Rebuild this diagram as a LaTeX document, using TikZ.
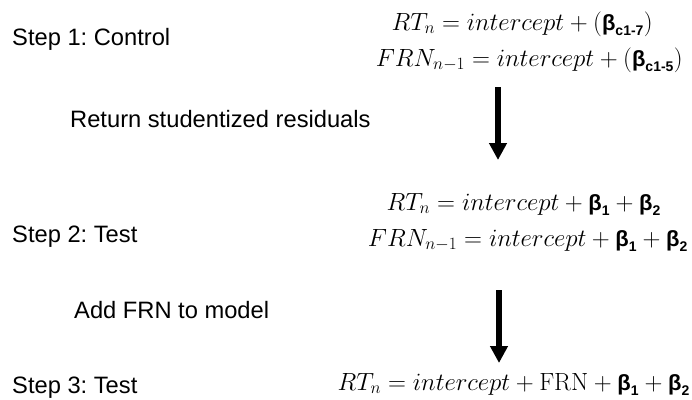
\documentclass[tikz,border=0pt]{standalone}
\usepackage{amsmath}
\usepackage[no-math]{fontspec}
\setmainfont{Liberation Sans}
\usetikzlibrary{arrows.meta}
\frenchspacing
\newcommand{\bbeta}[1]{\mbox{\fontsize{22}{26}\selectfont\bfseries β}_{\mbox{\fontsize{14}{16}\selectfont\bfseries #1}}}
\tikzset{
  lbl/.style={anchor=base west, inner sep=0pt, font=\fontsize{23.7}{28}\selectfont},
  eq/.style={anchor=base east, inner sep=0pt, font=\fontsize{23}{27}\selectfont},
  bigarrow/.style={line width=6.5pt, -{Triangle[width=17pt,length=17pt]}}
}
\begin{document}
\begin{tikzpicture}[x=1pt,y=-1pt]
\useasboundingbox (0,0) rectangle (692,399);
\node[lbl] (s1) at (12,45) {Step 1: Control};
\node[lbl] (ret) at (70,127) {Return studentized residuals};
\node[lbl] (s2) at (12,242) {Step 2: Test};
\node[lbl] (add) at (74,318) {Add FRN to model};
\node[lbl] (s3) at (12,393) {Step 3: Test};

\node[eq] (e1) at (653,30) {$RT_n = intercept + (\bbeta{c1-7})$};
\node[eq] (e2) at (683,66) {$FRN_{n-1} = intercept + (\bbeta{c1-5})$};
\node[eq] (e3) at (661,210) {$RT_n = intercept + \bbeta{1} + \bbeta{2}$};
\node[eq] (e4) at (688,246) {$FRN_{n-1} = intercept + \bbeta{1} + \bbeta{2}$};
\node[eq] (e5) at (690,390) {$RT_n = intercept + \mathrm{FRN} + \bbeta{1} + \bbeta{2}$};

\coordinate (a1s) at (498,87);
\coordinate (a1e) at (498,160);
\coordinate (a2s) at (499,290);
\coordinate (a2e) at (499,363);
\draw[bigarrow] (a1s) -- (a1e);
\draw[bigarrow] (a2s) -- (a2e);
\end{tikzpicture}
\end{document}
